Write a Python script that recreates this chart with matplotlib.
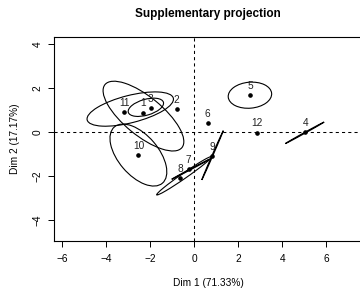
import matplotlib
matplotlib.use("Agg")
import matplotlib.pyplot as plt
from matplotlib.patches import Ellipse

plt.rcParams['font.family'] = ['Liberation Sans', 'DejaVu Sans']

# projected individuals
labels = ['1', '2', '3', '4', '5', '6', '7', '8', '9', '10', '11', '12']
dim1 = [-2.35, -0.81, -1.98, 5.03, 2.52, 0.60, -0.26, -0.66, 0.81, -2.55, -3.19, 2.84]
dim2 = [0.88, 1.03, 1.08, 0.00, 1.67, 0.39, -1.70, -2.08, -1.08, -1.05, 0.92, -0.03]

# confidence ellipses: centre, semi axes, angle (deg)
ell_x = [-2.32, -2.21, -2.92, -2.55, 2.52, -0.47, -0.17, 0.82, 5.01]
ell_y = [0.72, 1.12, 1.04, -1.05, 1.67, -1.99, -1.69, -1.06, -0.04]
ell_a = [2.26, 0.83, 2.02, 1.68, 0.99, 1.52, 0.98, 1.22, 1.01]
ell_b = [0.88, 0.36, 0.62, 0.91, 0.59, 0.12, 0.02, 0.02, 0.02]
ell_angle = [-39.3, 16.0, 14.2, -49.5, 5.0, 34.8, 27.9, 66.4, 29.0]

x_ticks = [-6, -4, -2, 0, 2, 4, 6]
y_ticks = [-4, -2, 0, 2, 4]

fs = 7.3

fig = plt.figure(figsize=(3.6, 2.89), dpi=100)
ax = fig.add_axes([54 / 360, 48.3 / 289, 308 / 360, 203.4 / 289])

ax.axhline(0, color='black', lw=0.75, ls=(0, (3, 3)))
ax.axvline(0, color='black', lw=0.75, ls=(0, (3, 3)))

for cx, cy, a, b, ang in zip(ell_x, ell_y, ell_a, ell_b, ell_angle):
    ax.add_patch(Ellipse((cx, cy), 2 * a, 2 * b, angle=ang, fill=False,
                         edgecolor='black', lw=0.8))

ax.plot(dim1, dim2, 'o', color='black', markersize=2.3)
for lab, x, y in zip(labels, dim1, dim2):
    ax.annotate(lab, (x, y), xytext=(0, 3), textcoords='offset points',
                ha='center', va='bottom', fontsize=fs, color='#222222')

ax.set_xlim(-6.386, 7.614)
ax.set_ylim(-4.94, 4.30)
ax.set_xticks(x_ticks)
ax.set_yticks(y_ticks)
ax.set_xticklabels([str(t).replace('-', '\u2212') for t in x_ticks], fontsize=fs)
ax.set_yticklabels([str(t).replace('-', '\u2212') for t in y_ticks], fontsize=fs,
                   rotation=90, va='center')
ax.tick_params(axis='x', length=4, width=0.7, pad=5.5)
ax.tick_params(axis='y', length=4, width=0.7, pad=4)
for s in ax.spines.values():
    s.set_linewidth(0.8)

ax.set_xlabel('Dim 1 (71.33%)', fontsize=fs, labelpad=10)
ax.set_ylabel('Dim 2 (17.17%)', fontsize=fs, labelpad=9)
fig.text(208 / 360, 1 - 14 / 289, 'Supplementary projection', ha='center', va='center',
         fontsize=8.5, fontweight='bold')

fig.savefig('out.png', dpi=100)
